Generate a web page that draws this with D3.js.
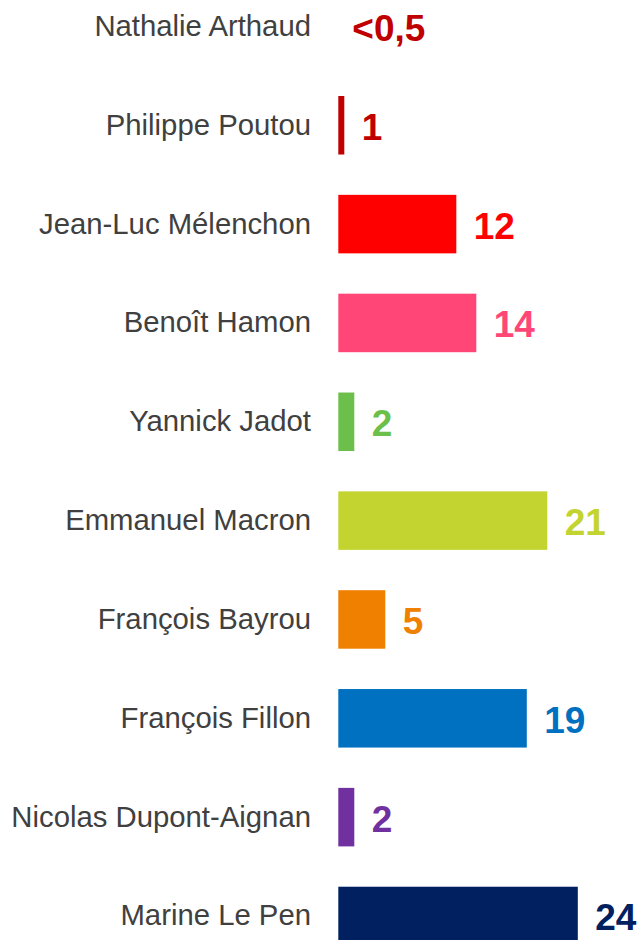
<!DOCTYPE html>
<html>
<head>
<meta charset="utf-8">
<script src="https://cdn.jsdelivr.net/npm/d3@7"></script>
<style>
  html, body { margin: 0; padding: 0; background: #fff; }
  svg { display: block; }
</style>
</head>
<body>
<svg id="chart" width="640" height="940"></svg>
<script>
const candidates = ["Nathalie Arthaud", "Philippe Poutou", "Jean-Luc Mélenchon", "Benoît Hamon", "Yannick Jadot", "Emmanuel Macron", "François Bayrou", "François Fillon", "Nicolas Dupont-Aignan", "Marine Le Pen"];
const scores = [0, 0.6, 11.8, 13.8, 1.6, 20.9, 4.7, 18.85, 1.6, 23.95];
const scoreLabels = ["<0,5", "1", "12", "14", "2", "21", "5", "19", "2", "24"];
const colors = ["#c00000", "#c00000", "#ff0000", "#ff4677", "#6cbf4a", "#c3d431", "#f08000", "#0070c0", "#7030a0", "#002060"];

const svg = d3.select("#chart");

const x = d3.scaleLinear().domain([0, 24]).range([338.3, 578.3]);
const y = d3.scaleBand().domain(candidates).range([-23, 965.4]).paddingInner(0.408).paddingOuter(0.204);

const rows = svg.selectAll("g.row")
  .data(candidates.map((c, i) => ({ name: c, v: scores[i], label: scoreLabels[i], color: colors[i] })))
  .join("g").attr("class", "row");

rows.append("rect")
  .attr("x", x(0))
  .attr("y", d => y(d.name))
  .attr("width", d => x(d.v) - x(0))
  .attr("height", y.bandwidth())
  .attr("fill", d => d.color);

rows.append("text")
  .attr("x", 311)
  .attr("y", d => y(d.name) + y.bandwidth() / 2 + 9.5)
  .attr("text-anchor", "end")
  .attr("font-family", "'Liberation Sans', Arial, sans-serif")
  .attr("font-size", 29.3)
  .attr("fill", "#404040")
  .text(d => d.name);

rows.append("text")
  .attr("x", d => x(d.v) + (d.v === 0 ? 14 : 17.5))
  .attr("y", d => y(d.name) + y.bandwidth() / 2 + 14.5)
  .attr("font-family", "'Liberation Sans', Arial, sans-serif")
  .attr("font-size", 37)
  .attr("font-weight", "bold")
  .attr("fill", d => d.color)
  .text(d => d.label);
</script>
</body>
</html>
